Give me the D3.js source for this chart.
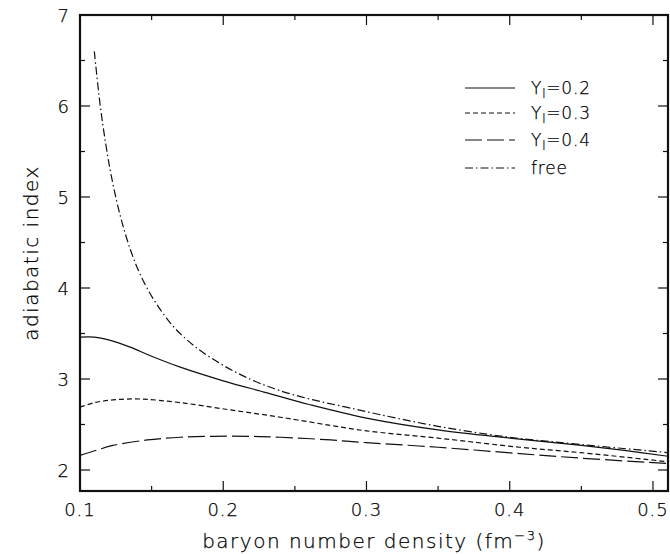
<!DOCTYPE html>
<html><head><meta charset="utf-8">
<script src="https://cdn.jsdelivr.net/npm/d3@7"></script>
<style>
html,body{margin:0;padding:0;background:#fff;}
text{font-family:"DejaVu Sans","Liberation Sans",sans-serif;font-weight:200;fill:#000;stroke:#000;stroke-width:0.25;}
</style></head>
<body>
<svg id="c" width="670" height="554"></svg>
<script>
// data
const xFree = [0.110,0.114,0.118,0.122,0.128,0.135,0.142,0.152,0.165,0.180,0.200,0.220,0.240,0.263,0.286,0.309,0.350,0.400,0.450,0.511];
const yFree = [6.60,6.02,5.58,5.22,4.80,4.43,4.15,3.86,3.58,3.36,3.15,2.99,2.87,2.77,2.69,2.61,2.48,2.36,2.28,2.19];
const xY02 = [0.100,0.110,0.120,0.135,0.150,0.170,0.200,0.230,0.260,0.300,0.350,0.400,0.450,0.480,0.511];
const yY02 = [3.46,3.46,3.43,3.35,3.25,3.13,2.98,2.85,2.72,2.57,2.44,2.35,2.27,2.215,2.15];
const xY03 = [0.100,0.110,0.123,0.142,0.170,0.205,0.240,0.275,0.300,0.350,0.407,0.450,0.511];
const yY03 = [2.69,2.74,2.77,2.78,2.74,2.66,2.58,2.49,2.43,2.35,2.25,2.19,2.09];
const xY04 = [0.100,0.112,0.123,0.147,0.170,0.193,0.217,0.240,0.275,0.300,0.350,0.407,0.450,0.511];
const yY04 = [2.16,2.22,2.27,2.33,2.36,2.37,2.37,2.36,2.33,2.30,2.25,2.18,2.13,2.07];
const seriesNames = ["0.2","0.3","0.4","free"];
const xTicks = [0.1,0.2,0.3,0.4,0.5];
const yTicks = [2,3,4,5,6,7];

const svg = d3.select("#c");
const L=80,R=668,T=15,B=491;
const x = d3.scaleLinear().domain([0.1,0.5105]).range([L,R]);
const y = d3.scaleLinear().domain([2,7]).range([470,15]);
y.domain([y.invert(B), 7]).range([B,T]);

const g = svg.append("g");
const ink="#111";
// ticks
const xMinor = d3.range(0.1,0.5101,0.05);
const yMinor = d3.range(2,7.001,0.5);
function isMajor(v,step){return Math.abs(v/step-Math.round(v/step))<1e-6;}
xMinor.forEach(v=>{
  const len = isMajor(v,0.1)?10:5; const px=x(v);
  g.append("line").attr("x1",px).attr("x2",px).attr("y1",B).attr("y2",B-len).attr("stroke",ink).attr("stroke-width",1.2);
  g.append("line").attr("x1",px).attr("x2",px).attr("y1",T).attr("y2",T+len).attr("stroke",ink).attr("stroke-width",1.2);
});
yMinor.forEach(v=>{
  const len = isMajor(v,1)?10:5; const py=y(v);
  g.append("line").attr("x1",L).attr("x2",L+len).attr("y1",py).attr("y2",py).attr("stroke",ink).attr("stroke-width",1.2);
  g.append("line").attr("x1",R).attr("x2",R-len).attr("y1",py).attr("y2",py).attr("stroke",ink).attr("stroke-width",1.2);
});
g.append("rect").attr("x",L).attr("y",T).attr("width",R-L).attr("height",B-T).attr("fill","none").attr("stroke",ink).attr("stroke-width",2.2);

// tick labels
xTicks.forEach(v=>{
  g.append("text").attr("x",x(v)).attr("y",516).attr("text-anchor","middle").attr("font-size",18).attr("letter-spacing",1).text(v.toFixed(1));
});
yTicks.forEach(v=>{
  g.append("text").attr("x",69).attr("y",y(v)+7).attr("text-anchor","end").attr("font-size",18).text(v);
});

// axis titles
const xt = g.append("text").attr("x",374).attr("y",548).attr("text-anchor","middle").attr("font-size",20).attr("letter-spacing",1.5);
xt.append("tspan").text("baryon number density (fm");
xt.append("tspan").attr("dy",-8).attr("font-size",13).text("−3");
xt.append("tspan").attr("dy",8).text(")");
g.append("text").attr("transform","translate(38,253) rotate(-90)").attr("text-anchor","middle").attr("font-size",20).attr("letter-spacing",1.5).text("adiabatic index");

// curves
const line = d3.line().x(d=>x(d[0])).y(d=>y(d[1])).curve(d3.curveCatmullRom.alpha(0.5));
const styles = [
  {xs:xY02, ys:yY02, dash:null},
  {xs:xY03, ys:yY03, dash:"5,3"},
  {xs:xY04, ys:yY04, dash:"17,5"},
  {xs:xFree, ys:yFree, dash:"8,3,1.5,3"}
];
svg.append("clipPath").attr("id","pc").append("rect").attr("x",L).attr("y",T).attr("width",R-L).attr("height",B-T);
styles.forEach(s=>{
  const pts = s.xs.map((v,i)=>[v,s.ys[i]]);
  g.append("path").attr("d",line(pts)).attr("fill","none").attr("stroke",ink).attr("stroke-width",1.2)
   .attr("clip-path","url(#pc)").attr("stroke-dasharray",s.dash);
});

// legend
const ly=[88,113,140,168];
styles.forEach((s,i)=>{
  g.append("line").attr("x1",465).attr("x2",515).attr("y1",ly[i]).attr("y2",ly[i]).attr("stroke",ink).attr("stroke-width",1.2).attr("stroke-dasharray",s.dash);
  const t = g.append("text").attr("x",531).attr("y",ly[i]+6).attr("font-size",17).attr("letter-spacing",0.8);
  if(seriesNames[i]==="free"){ t.text("free"); }
  else {
    t.append("tspan").text("Y");
    t.append("tspan").attr("dy",4).attr("font-size",12).text("l");
    t.append("tspan").attr("dy",-4).text("=" + seriesNames[i]);
  }
});
</script>
</body></html>
